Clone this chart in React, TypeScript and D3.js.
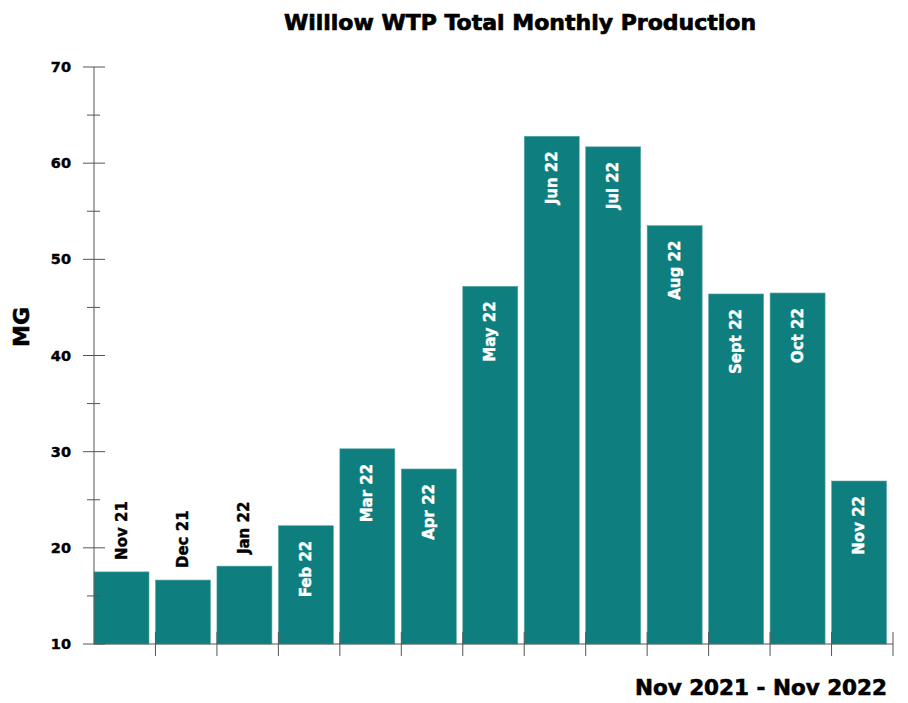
import React from "react";
import * as d3 from "d3";

const months = ["Nov 21", "Dec 21", "Jan 22", "Feb 22", "Mar 22", "Apr 22", "May 22", "Jun 22", "Jul 22", "Aug 22", "Sept 22", "Oct 22", "Nov 22"];
const production = [17.5, 16.65, 18.1, 22.3, 30.3, 28.2, 47.2, 62.8, 61.7, 53.5, 46.4, 46.5, 26.95];
const insideLabel = [false, false, false, true, true, true, true, true, true, true, true, true, true];
const yTicks = [10, 20, 30, 40, 50, 60, 70];
const yMinorTicks = [15, 25, 35, 45, 55, 65];

const W = 908;
const H = 703;
const FONT = "'DejaVu Sans', sans-serif";
const BAR = "#0e7f7e";
const AXIS = "#555";

export default function App() {
  const x = d3.scaleBand<string>().domain(months).range([94, 893]).padding(0);
  const y = d3.scaleLinear().domain([10, 70]).range([644, 67]);
  const bw = x.bandwidth() * 0.895;

  return (
    <svg width={W} height={H} style={{ position: "absolute", left: 0, top: 0, background: "#fff" }}>
      <text x={520} y={30} textAnchor="middle" fontFamily={FONT} fontWeight="bold" fontSize={22} fill="#000" stroke="#000" strokeWidth={0.7}>
        Willlow WTP Total Monthly Production
      </text>
      {months.map((m, i) => {
        const x0 = x(m)!;
        const yt = y(production[i]);
        const cx = x0 + bw / 2;
        const inside = insideLabel[i];
        const col = inside ? "#fff" : "#000";
        return (
          <g key={m}>
            <rect x={x0} y={yt} width={bw} height={y(10) - yt} fill={BAR} stroke="#5fa9a8" strokeWidth={0.6} />
            <text
              transform={`translate(${cx},${inside ? yt + 15 : yt - 12}) rotate(-90)`}
              textAnchor={inside ? "end" : "start"}
              dominantBaseline="central"
              fontFamily={FONT}
              fontWeight="bold"
              fontSize={15}
              fill={col}
              stroke={col}
              strokeWidth={0.4}
            >
              {m}
            </text>
          </g>
        );
      })}
      {/* y axis */}
      <line x1={94} x2={94} y1={y(70)} y2={y(10)} stroke={AXIS} strokeWidth={1} />
      {yTicks.map((t) => (
        <g key={t}>
          <line x1={83} x2={105} y1={y(t)} y2={y(t)} stroke={AXIS} strokeWidth={1} />
          <text x={71} y={y(t)} textAnchor="end" dominantBaseline="central" fontFamily={FONT} fontWeight="bold" fontSize={14.5} fill="#000" stroke="#000" strokeWidth={0.4}>
            {t}
          </text>
        </g>
      ))}
      {yMinorTicks.map((t) => (
        <line key={t} x1={87} x2={100} y1={y(t)} y2={y(t)} stroke={AXIS} strokeWidth={1} />
      ))}
      <text transform={`translate(21,327) rotate(-90)`} textAnchor="middle" dominantBaseline="central" fontFamily={FONT} fontWeight="bold" fontSize={22} fill="#000" stroke="#000" strokeWidth={0.6}>
        MG
      </text>
      {/* x axis */}
      <line x1={94} x2={893} y1={644} y2={644} stroke={AXIS} strokeWidth={1} />
      {months.map((m) => {
        const xe = x(m)! + x.bandwidth();
        return <line key={m + "t"} x1={xe} x2={xe} y1={632} y2={656} stroke={AXIS} strokeWidth={1} />;
      })}
      <text x={887} y={695} textAnchor="end" fontFamily={FONT} fontWeight="bold" fontSize={21.5} fill="#000" stroke="#000" strokeWidth={0.6}>
        Nov 2021 - Nov 2022
      </text>
    </svg>
  );
}
